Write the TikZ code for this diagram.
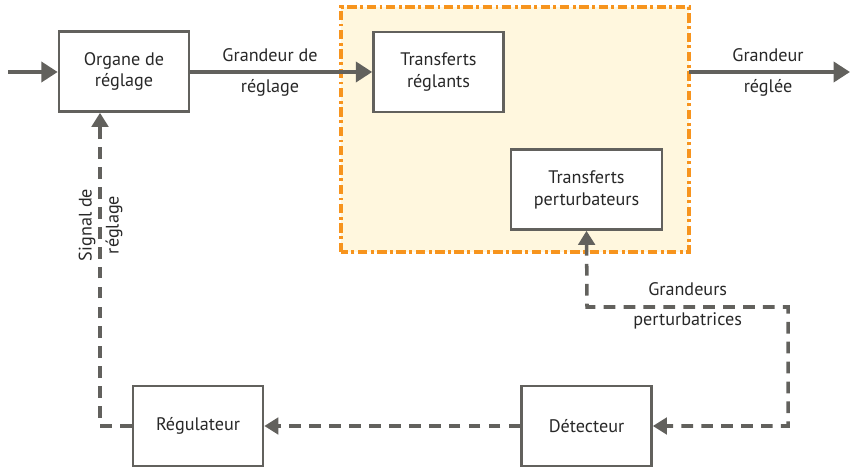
\documentclass[tikz,border=0pt]{standalone}
\usepackage{fontspec}
\setmainfont{PT Sans}
\usetikzlibrary{arrows.meta,positioning}
\definecolor{linegray}{RGB}{98,97,93}
\definecolor{textgray}{RGB}{40,40,40}
\definecolor{zoneorange}{RGB}{247,148,29}
\definecolor{zonefill}{RGB}{255,247,222}

\begin{document}
\begin{tikzpicture}[
    box/.style={
        rectangle,
        draw=linegray, line width=2.2pt, fill=white,
        minimum width=3.9cm,        % largeur des blocs
        minimum height=2.4cm,
        align=center, text=textgray,
        font=\fontsize{15.5}{18.7}\selectfont
    },
    lbl/.style={text=textgray, font=\fontsize{15.5}{18}\selectfont},
    mainarrow/.style={->, >={Triangle[length=14pt,width=17pt]}, line width=4.2pt, draw=linegray},
    dasharrow/.style={->, >={Triangle[length=12pt,width=14pt]}, line width=3pt, draw=linegray,
        dash pattern=on 10pt off 7pt},
    zone/.style={draw=zoneorange, fill=zonefill, line width=2.6pt,
        dash pattern=on 8pt off 3pt on 2.5pt off 3pt}
]
\useasboundingbox (0,0) rectangle (25.53,14.01);

% --- Zone du processus ---
\draw[zone] (10.23,6.45) rectangle (20.67,13.8);

% --- Blocs ---
\node[box] (organe) at (3.72,11.865) {Organe de\\réglage};
\node[box] (reglants) at (13.155,11.85) {Transferts\\réglants};
\node[box, minimum width=4.53cm] (perturb) at (17.595,8.325) {Transferts\\perturbateurs};
\node[box] (detect) at (17.595,1.23) {Détecteur};
\node[box] (regul) at (5.94,1.23) {Régulateur};

% --- Points de passage ---
\coordinate (entree) at (0.24,11.85);
\coordinate (sortie) at (25.5,11.85);
\coordinate (pcoin) at (17.61,4.8);
\coordinate (qcoin) at (23.64,4.8);
\coordinate (scoin) at (3.0,1.23);

% --- Chaîne directe ---
\draw[mainarrow] (entree) -- (organe.west |- entree);
\draw[mainarrow] (organe.east |- entree) -- (reglants.west |- entree);
\draw[mainarrow] (20.67,11.85) -- (sortie);

% --- Boucle de mesure ---
\draw[dasharrow, <->] (perturb.south) -- (pcoin) -- (qcoin) -- (qcoin |- detect.east) -- (detect.east);
\draw[dasharrow] (detect.west) -- (regul.east);
\draw[dasharrow] (regul.west) -- (scoin) -- (scoin |- organe.south);

% --- Étiquettes ---
\node[lbl] (gr1) at (8.1,12.36) {Grandeur de};
\node[lbl] (gr2) at (8.1,11.37) {réglage};
\node[lbl] (gs1) at (23.04,12.36) {Grandeur};
\node[lbl] (gs2) at (23.04,11.37) {réglée};
\node[lbl] (gp1) at (20.63,5.34) {Grandeurs};
\node[lbl] (gp2) at (20.63,4.38) {perturbatrices};
\node[lbl, rotate=90] (sg1) at (2.61,7.26) {Signal de};
\node[lbl, rotate=90] (sg2) at (3.42,7.26) {réglage};

\end{tikzpicture}
\end{document}
